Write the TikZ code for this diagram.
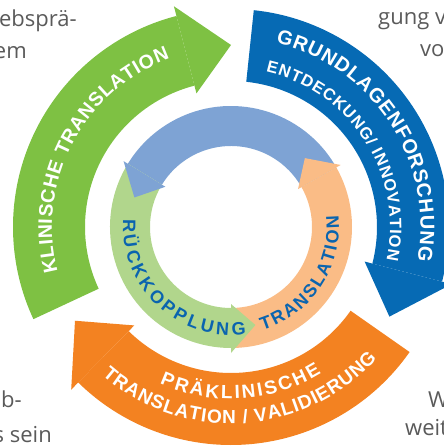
\documentclass[tikz,border=0pt]{standalone}
\usepackage{fontspec}
\setsansfont{Liberation Sans}
\newfontfamily\bodyfont{Open Sans}
\usetikzlibrary{decorations.text}
\definecolor{biggreen}{HTML}{7EC143}
\definecolor{bigblue}{HTML}{066AB4}
\definecolor{bigorange}{HTML}{F38221}
\definecolor{softblue}{HTML}{7EA3D4}
\definecolor{softgreen}{HTML}{B1D68C}
\definecolor{softorange}{HTML}{FABC86}
\definecolor{loopblue}{HTML}{0A64AF}
\definecolor{bodygray}{HTML}{5A5A5A}
% band of a ring: colour, inner r, outer r, from angle, to angle
\newcommand{\ringbody}[5]{\fill[#1] (#4:#3pt) arc[start angle=#4, end angle=#5, radius=#3pt] -- (#5:#2pt) arc[start angle=#5, end angle=#4, radius=#2pt] -- cycle;}
% head: colour, inner barb r, outer barb r, tip r, base angle, tip angle
\newcommand{\ringhead}[6]{\fill[#1] (#5:#2pt) -- (#5:#3pt) -- (#6:#4pt) -- cycle;}
\newcommand{\outfont}[1]{\sffamily\bfseries\fontsize{#1}{#1}\selectfont\color{white}}
\newcommand{\infont}{\sffamily\bfseries\fontsize{18}{18}\selectfont\color{loopblue}}

\begin{document}
\begin{tikzpicture}[x=1pt, y=1pt,
    ringtext/.style={decorate, decoration={text along path, text align=fit to path, text={#1}}},
    body/.style={font=\bodyfont\fontsize{22}{22}\selectfont, text=bodygray, inner sep=0pt}]
  \useasboundingbox (-231,-220) rectangle (213,227);

  % outer cycle
  \ringbody{bigblue}{146}{218}{84}{-14.5}
  \ringhead{bigblue}{138}{228}{182}{-14.5}{-29.5}
  \ringbody{biggreen}{146}{218}{205}{104.5}
  \ringhead{biggreen}{138}{228}{182}{104.5}{90}
  \ringbody{bigorange}{146}{218}{-35}{-134.5}
  \ringhead{bigorange}{138}{228}{182}{-134.5}{-149}

  % inner cycle
  \ringbody{softblue}{81}{121}{29.5}{148.5}
  \ringbody{softgreen}{81}{121}{148.5}{270}
  \ringbody{softorange}{81}{121}{270}{389.5}
  \ringhead{softblue}{77}{126}{101}{148.5}{163}
  \ringhead{softgreen}{77}{126}{101}{270}{284}
  \ringhead{softorange}{77}{126}{101}{389.5}{403}

  % labels on the rings
  \path[ringtext={|\outfont{19.5}|KLINISCHE TRANSLATION}] (194.5:179pt) arc[start angle=194.5, end angle=110, radius=179pt];
  \path[ringtext={|\outfont{20}|GRUNDLAGENFORSCHUNG}] (76.3:189.5pt) arc[start angle=76.3, end angle=-10.3, radius=189.5pt];
  \path[ringtext={|\outfont{16.5}|ENTDECKUNG/ INNOVATION}] (77.3:159pt) arc[start angle=77.3, end angle=-12, radius=159pt];
  \path[ringtext={|\outfont{19}|PRÄKLINISCHE}] (245.5:172pt) arc[start angle=245.5, end angle=301.7, radius=172pt];
  \path[ringtext={|\outfont{19}|TRANSLATION / VALIDIERUNG}] (229:196.5pt) arc[start angle=229, end angle=318, radius=196.5pt];
  \path[ringtext={|\infont|RÜCKKOPPLUNG}] (176:108pt) arc[start angle=176, end angle=278, radius=108pt];
  \path[ringtext={|\infont|TRANSLATION}] (287:108pt) arc[start angle=287, end angle=366, radius=108pt];

  % surrounding text
  \node[body, anchor=base east] (ebspr) at (-154,200) {ebsprä-};
  \node[body, anchor=base east] (em) at (-204,168) {em};
  \node[body, anchor=base west] (gung) at (147,202) {gung v};
  \node[body, anchor=base west] (vo) at (189,170) {vo};
  \node[body, anchor=base east] (bhyph) at (-209,-180) {b-};
  \node[body, anchor=base east] (sein) at (-179,-215) {s sein};
  \node[body, anchor=base west] (w) at (197,-180) {W};
  \node[body, anchor=base west] (wei) at (174,-208) {weit};
\end{tikzpicture}
\end{document}
